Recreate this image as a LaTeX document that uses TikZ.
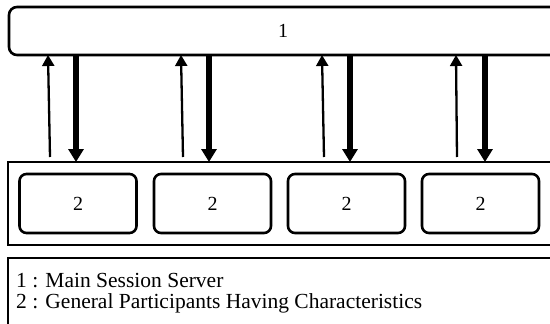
\documentclass[tikz,border=0pt]{standalone}
\usepackage{fontspec}
\setmainfont{Liberation Serif}
\usetikzlibrary{arrows.meta}
\begin{document}
\begin{tikzpicture}[x=1pt,y=-1pt,
  frame/.style={draw=black,line width=2.6pt},
  pbox/.style={draw=black,line width=2.6pt,rounded corners=7pt,minimum width=117pt,minimum height=59pt,inner sep=0pt,font=\fontsize{20}{20}\selectfont},
  uparrow/.style={draw=black,line width=2.3pt,-{Triangle[width=12pt,length=11pt]}},
  downarrow/.style={draw=black,line width=6pt,-{Triangle[width=15pt,length=13pt]}},
  legend/.style={anchor=base west,inner sep=0pt,font=\fontsize{21.5}{21.5}\selectfont}]
\useasboundingbox (0,0) rectangle (550,324);
\clip (0,0) rectangle (550,324);
% top server box
\draw[frame,rounded corners=8pt] (9,7) rectangle (575,55);
\node[font=\fontsize{20}{20}\selectfont] (server) at (283,31) {1};
% group frame
\draw[frame] (8,162) rectangle (575,245);
% legend frame
\draw[frame] (8,258) rectangle (575,340);
% participant boxes
\node[pbox] (p1) at (78,203.5) {2};
\node[pbox] (p2) at (212.5,203.5) {2};
\node[pbox] (p3) at (346.5,203.5) {2};
\node[pbox] (p4) at (480.5,203.5) {2};
% arrow endpoints
\coordinate (u1b) at (50,157);  \coordinate (u1t) at (48,55);
\coordinate (u2b) at (183,157); \coordinate (u2t) at (181,55);
\coordinate (u3b) at (324,157); \coordinate (u3t) at (322,55);
\coordinate (u4b) at (457,157); \coordinate (u4t) at (456,55);
\coordinate (d1t) at (76,56);  \coordinate (d1b) at (76,162);
\coordinate (d2t) at (209,56); \coordinate (d2b) at (209,162);
\coordinate (d3t) at (350,56); \coordinate (d3b) at (350,162);
\coordinate (d4t) at (485,56); \coordinate (d4b) at (485,162);
\draw[uparrow] (u1b) -- (u1t);
\draw[uparrow] (u2b) -- (u2t);
\draw[uparrow] (u3b) -- (u3t);
\draw[uparrow] (u4b) -- (u4t);
\draw[downarrow] (d1t) -- (d1b);
\draw[downarrow] (d2t) -- (d2b);
\draw[downarrow] (d3t) -- (d3b);
\draw[downarrow] (d4t) -- (d4b);
% legend
\node[legend] (l1) at (16,287) {1 : Main Session Server};
\node[legend] (l2) at (16,308) {2 : General Participants Having Characteristics};
\end{tikzpicture}
\end{document}
